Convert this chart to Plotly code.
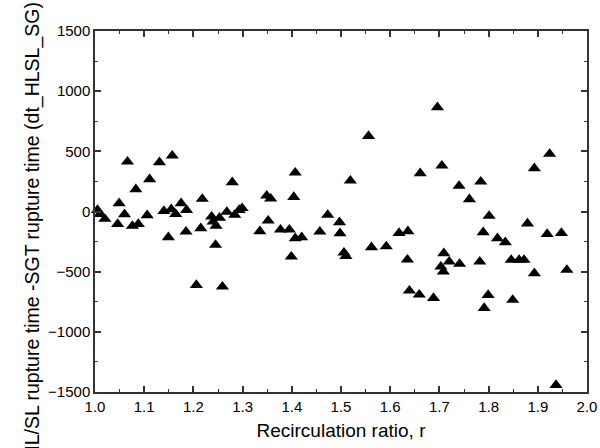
import plotly.graph_objects as go

# Recirculation ratio r
r_vals = [1.005, 1.010, 1.020,
          1.046, 1.049, 1.060, 1.066, 1.076, 1.083, 1.088,
          1.106, 1.111, 1.131, 1.140, 1.149, 1.155, 1.157, 1.164, 1.175, 1.185, 1.186,
          1.206, 1.215, 1.218, 1.237, 1.240, 1.245, 1.246, 1.253, 1.259, 1.268, 1.279, 1.284, 1.293, 1.299,
          1.335, 1.349, 1.352, 1.357, 1.377, 1.395, 1.399, 1.404, 1.407, 1.407, 1.420,
          1.457, 1.473, 1.497, 1.498, 1.506, 1.510, 1.519,
          1.556, 1.562, 1.592,
          1.618, 1.635, 1.636, 1.639, 1.659, 1.661, 1.688, 1.696, 1.703, 1.705, 1.708, 1.709, 1.720, 1.740, 1.741, 1.761,
          1.782, 1.784, 1.789, 1.791, 1.799, 1.801, 1.818, 1.834, 1.846, 1.849, 1.862, 1.872, 1.879, 1.893, 1.893,
          1.919, 1.924, 1.937, 1.948, 1.959]

# dt_HLSL_SG values
dt_vals = [12, -21, -62,
           -104, 68, -23, 414, -120, 184, -104,
           -32, 268, 409, 4, -215, 18, 464, -21, 68, -168, 12,
           -611, -140, 104, -43, -85, -278, -120, -52, -625, -4, 243, -29, 12, 28,
           -165, 131, -76, 106, -151, -151, -375, 120, 323, -223, -214,
           -168, -29, -90, -181, -342, -370, 256,
           627, -298, -290,
           -179, -400, -165, -658, -691, 317, -719, 866, -459, 381, -500, -347, -417, 212, -436, 101,
           -417, 248, -173, -802, -694, -37, -223, -256, -403, -735, -403, -403, -100, 359, -514,
           -187, 478, -1442, -179, -486]

x_title = "Recirculation ratio, r"
y_title = "HL/SL rupture time -SGT rupture time (dt_HLSL_SG)"

FONT = "Liberation Sans, Arial, sans-serif"

fig = go.Figure()
fig.add_trace(go.Scatter(
    x=r_vals, y=dt_vals, mode="markers",
    marker=dict(symbol="triangle-up", size=11.5, color="black", line=dict(width=0)),
    cliponaxis=False, showlegend=False,
))

axis_common = dict(
    showline=True, linecolor="#333333", linewidth=1.5, mirror="ticks",
    ticks="inside", ticklen=6, tickwidth=1.5, tickcolor="#333333",
    showgrid=False, zeroline=False, automargin=False,
    tickfont=dict(family=FONT, size=15, color="black"),
)

fig.update_xaxes(range=[1.0, 2.0], tick0=1.0, dtick=0.1, tickformat=".1f",
                 minor=dict(ticks="inside", ticklen=3, tickwidth=1.2, tickcolor="#333333", dtick=0.05),
                 title=dict(text=x_title, font=dict(family=FONT, size=19, color="black"), standoff=10),
                 **axis_common)
fig.update_yaxes(range=[-1500, 1500], tick0=-1500, dtick=500,
                 minor=dict(ticks="inside", ticklen=3, tickwidth=1.2, tickcolor="#333333", dtick=250),
                 **axis_common)

fig.add_annotation(
    text=y_title, textangle=-90, showarrow=False,
    xref="paper", yref="paper", x=-0.128, y=0.445,
    xanchor="center", yanchor="middle",
    font=dict(family=FONT, size=19.5, color="black"),
)

fig.update_layout(
    width=600, height=448,
    margin=dict(l=95, r=13, t=31, b=56),
    paper_bgcolor="white", plot_bgcolor="white",
)

fig.write_html("out.html")
